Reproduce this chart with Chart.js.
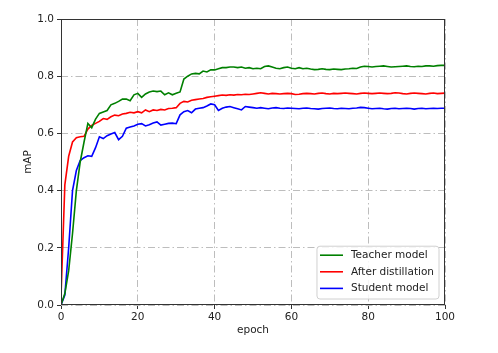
<!DOCTYPE html>
<html>
<head>
<meta charset="utf-8">
<script src="https://cdn.jsdelivr.net/npm/chart.js@4.4.1/dist/chart.umd.min.js"></script>
<style>
  html, body { margin: 0; padding: 0; background: #fff; }
  #wrap { width: 498px; height: 353px; }
</style>
</head>
<body>
<div id="wrap"><canvas id="chart" width="498" height="353"></canvas></div>
<script>
'use strict';

// ── DATA ─────────────────────────────────────────────────────

const EPOCHS = Array.from({ length: 101 }, (_, i) => i);
const Y_TICKS = [0, 0.2, 0.4, 0.6, 0.8, 1.0];
const SERIES_NAMES = ['Teacher model', 'After distillation', 'Student model'];

const teacher = [
  0.00, 0.04, 0.12, 0.25, 0.40, 0.50, 0.57, 0.635, 0.62, 0.65,
  0.67, 0.675, 0.68, 0.70, 0.705, 0.712, 0.72, 0.72, 0.714, 0.735,
  0.74, 0.726, 0.738, 0.745, 0.748, 0.746, 0.748, 0.735, 0.742, 0.735,
  0.74, 0.745, 0.79, 0.80, 0.808, 0.81, 0.808, 0.818, 0.815, 0.822,
  0.822, 0.826, 0.83, 0.83, 0.832, 0.832, 0.83, 0.832, 0.828, 0.83,
  0.826, 0.828, 0.826, 0.834, 0.836, 0.832, 0.828, 0.826, 0.83, 0.832,
  0.828, 0.826, 0.83, 0.826, 0.828, 0.825, 0.823, 0.824, 0.826, 0.824,
  0.823, 0.825, 0.824, 0.823, 0.825, 0.826, 0.828, 0.827, 0.832, 0.835,
  0.834, 0.832, 0.834, 0.835, 0.836, 0.834, 0.832, 0.833, 0.834, 0.835,
  0.836, 0.834, 0.833, 0.835, 0.834, 0.836, 0.836, 0.835, 0.837, 0.838,
  0.838
];

const distilled = [
  0.03, 0.42, 0.52, 0.57, 0.585, 0.588, 0.59, 0.615, 0.628, 0.635,
  0.642, 0.652, 0.649, 0.658, 0.664, 0.662, 0.668, 0.67, 0.674, 0.672,
  0.676, 0.672, 0.682, 0.676, 0.682, 0.68, 0.684, 0.682, 0.687, 0.688,
  0.69, 0.705, 0.712, 0.71, 0.716, 0.718, 0.72, 0.722, 0.726, 0.728,
  0.73, 0.732, 0.734, 0.733, 0.735, 0.734, 0.736, 0.735, 0.737, 0.736,
  0.738, 0.74, 0.742, 0.74, 0.738, 0.74, 0.739, 0.738, 0.739, 0.74,
  0.739, 0.736, 0.737, 0.739, 0.74, 0.739, 0.738, 0.74, 0.741, 0.739,
  0.738, 0.74, 0.739, 0.74, 0.741, 0.74, 0.739, 0.738, 0.74, 0.741,
  0.74, 0.739, 0.74, 0.741, 0.74, 0.739, 0.74, 0.742, 0.741, 0.739,
  0.738, 0.74, 0.741, 0.74, 0.739, 0.738, 0.74, 0.741, 0.739, 0.74,
  0.741
];

const student = [
  0.00, 0.035, 0.20, 0.40, 0.47, 0.505, 0.515, 0.522, 0.52, 0.55,
  0.588, 0.582, 0.592, 0.598, 0.603, 0.578, 0.59, 0.618, 0.622, 0.626,
  0.632, 0.634, 0.626, 0.63, 0.636, 0.64, 0.629, 0.632, 0.635, 0.636,
  0.634, 0.665, 0.676, 0.68, 0.672, 0.685, 0.688, 0.69, 0.696, 0.703,
  0.70, 0.68, 0.688, 0.692, 0.694, 0.69, 0.686, 0.682, 0.694, 0.692,
  0.69, 0.688, 0.69, 0.688, 0.686, 0.689, 0.69, 0.688, 0.687, 0.689,
  0.688, 0.687, 0.686, 0.688, 0.689, 0.687, 0.686, 0.685, 0.687, 0.688,
  0.689, 0.687, 0.686, 0.688, 0.687, 0.686, 0.688, 0.689, 0.691, 0.69,
  0.688, 0.686, 0.687, 0.688, 0.686, 0.685, 0.687, 0.688, 0.686, 0.687,
  0.688, 0.687, 0.685, 0.687, 0.688, 0.686, 0.687, 0.688, 0.687, 0.688,
  0.688
];

// ── STYLE ────────────────────────────────────────────────────

const FONT = 'DejaVu Sans';
const FONT_SIZE = 10.5;
const TEXT_COLOR = '#222';
const GRID_COLOR = '#bdbdbd';
const AXIS_COLOR = '#333';
const COLORS = ['#008000', '#ff0000', '#0000ff'];

// frame on all four sides, like matplotlib spines
const framePlugin = {
  id: 'frame',
  afterDatasetsDraw(chart) {
    const { ctx, chartArea: a } = chart;
    ctx.save();
    ctx.strokeStyle = AXIS_COLOR;
    ctx.lineWidth = 1;
    ctx.strokeRect(a.left + 0.5, a.top + 0.5, a.right - a.left - 1, a.bottom - a.top - 1);
    ctx.restore();
  }
};

// legend box inside the plot, lower right
const insideLegend = {
  id: 'insideLegend',
  afterDraw(chart) {
    const { ctx, chartArea: a } = chart;
    const sets = chart.data.datasets;
    ctx.save();
    ctx.font = `${FONT_SIZE}px "${FONT}"`;
    const textW = Math.max(...sets.map(d => ctx.measureText(d.label).width));
    const rowH = 16.6;
    const lineLen = 23;
    const w = 3 + lineLen + 8 + textW + 5;
    const h = rowH * sets.length + 3;
    const x = a.right - 6 - w;
    const y = a.bottom - 6 - h;

    ctx.beginPath();
    ctx.roundRect(x, y, w, h, 3);
    ctx.fillStyle = 'rgba(255,255,255,0.85)';
    ctx.fill();
    ctx.strokeStyle = '#d0d0d0';
    ctx.lineWidth = 1;
    ctx.stroke();

    sets.forEach((d, i) => {
      const cy = y + 9 + i * rowH;
      ctx.beginPath();
      ctx.moveTo(x + 3, cy);
      ctx.lineTo(x + 3 + lineLen, cy);
      ctx.strokeStyle = d.borderColor;
      ctx.lineWidth = 1.6;
      ctx.stroke();
      ctx.fillStyle = TEXT_COLOR;
      ctx.textBaseline = 'middle';
      ctx.fillText(d.label, x + 3 + lineLen + 8, cy);
    });
    ctx.restore();
  }
};

// ── CHART ────────────────────────────────────────────────────

const tickFont = { family: FONT, size: FONT_SIZE };

new Chart(document.getElementById('chart'), {
  type: 'line',
  data: {
    labels: EPOCHS,
    datasets: [teacher, distilled, student].map((vals, i) => ({
      label: SERIES_NAMES[i],
      data: vals,
      borderColor: COLORS[i],
      borderWidth: 1.6,
      pointRadius: 0,
      tension: 0,
      fill: false
    }))
  },
  options: {
    responsive: false,
    animation: false,
    layout: { padding: { left: 0, top: 19, right: 53, bottom: 0 } },
    plugins: {
      legend: { display: false },
      tooltip: { enabled: false }
    },
    scales: {
      x: {
        type: 'linear',
        min: 0, max: 100,
        afterFit: s => { s.height = 48; },
        ticks: { stepSize: 20, color: TEXT_COLOR, font: tickFont, padding: 2, maxRotation: 0 },
        grid: { color: GRID_COLOR, lineWidth: 1, tickLength: 4, tickColor: AXIS_COLOR, tickBorderDash: [] },
        border: { display: false, dash: [7, 3, 1.5, 3] },
        title: { display: true, text: 'epoch', color: TEXT_COLOR, font: tickFont, padding: { top: 0, bottom: 16 } }
      },
      y: {
        min: 0, max: 1,
        afterFit: s => { s.width = 61; },
        afterBuildTicks: s => { s.ticks = Y_TICKS.map(v => ({ value: v })); },
        ticks: { color: TEXT_COLOR, font: tickFont, padding: 3, callback: v => v.toFixed(1) },
        grid: { color: GRID_COLOR, lineWidth: 1, tickLength: 4, tickColor: AXIS_COLOR, tickBorderDash: [] },
        border: { display: false, dash: [7, 3, 1.5, 3] },
        title: { display: true, text: 'mAP', color: TEXT_COLOR, font: tickFont, padding: { top: 22, bottom: 0 } }
      }
    }
  },
  plugins: [framePlugin, insideLegend]
});
</script>
</body>
</html>
